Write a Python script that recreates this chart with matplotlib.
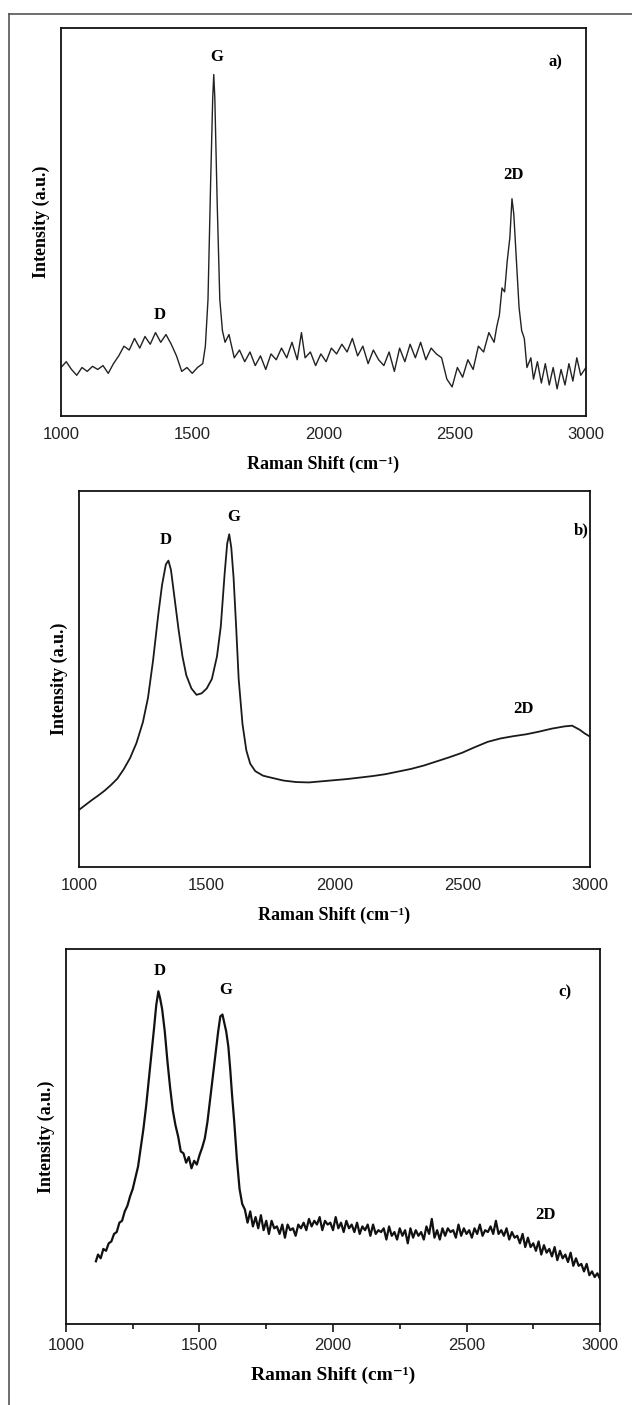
import matplotlib
matplotlib.use("Agg")
import matplotlib.pyplot as plt
from matplotlib.lines import Line2D
import numpy as np

# ---- panel a) spectrum (intensity in % of axis height)
xa = [1000, 1020, 1040, 1060, 1080, 1100, 1120, 1140, 1160, 1180, 1200, 1220, 1240, 1260, 1280,
      1300, 1320, 1340, 1360, 1380, 1400, 1420, 1440, 1460, 1480, 1500, 1520, 1540, 1550, 1560,
      1570, 1578, 1582, 1586, 1595, 1605, 1615, 1625, 1640, 1660, 1680, 1700, 1720, 1740, 1760,
      1780, 1800, 1820, 1840, 1860, 1880, 1900, 1916, 1930, 1950, 1970, 1990, 2010, 2030, 2050,
      2070, 2090, 2110, 2130, 2150, 2170, 2190, 2210, 2230, 2250, 2270, 2290, 2310, 2330, 2350,
      2370, 2390, 2410, 2430, 2450, 2470, 2490, 2510, 2530, 2550, 2570, 2590, 2610, 2630, 2650,
      2660, 2670, 2680, 2690, 2700, 2710, 2718, 2725, 2735, 2745, 2755, 2765, 2775, 2790, 2800,
      2815, 2830, 2845, 2860, 2875, 2890, 2905, 2920, 2935, 2950, 2965, 2980, 3000]
ya = [12.5, 14, 12, 10.5, 12.5, 11.5, 12.8, 12, 13, 11, 13.5, 15.5, 18, 17, 20,
      17.5, 20.5, 18.5, 21.5, 19, 21, 18.5, 15.5, 11.5, 12.5, 11, 12.5, 13.5, 18, 30,
      60, 82, 88, 82, 55, 30, 22, 19, 21, 15, 17, 14, 16.5, 13, 15.5,
      12, 16, 14.5, 17.5, 15, 19, 14.5, 21.5, 15, 16.5, 13, 16, 14, 17.5, 16,
      18.5, 16.5, 20, 15.5, 18, 13.5, 17, 14.5, 13, 16.5, 11.5, 17.5, 14, 18.5, 15,
      19, 14.5, 17.5, 16, 15, 9.5, 7.5, 12.5, 10, 14.5, 12, 18, 16.5, 21.5, 19,
      23, 26, 33, 32, 40, 46, 56, 52, 40, 28, 22, 20, 12.5, 15, 9.5,
      14, 8.5, 13.5, 8, 12.5, 7, 12, 8, 13.5, 9, 15, 10.5, 12.5]

# ---- panel b)
xb = [1000, 1025, 1050, 1075, 1100, 1125, 1150, 1175, 1200, 1225, 1250, 1270, 1290, 1310, 1325,
      1340, 1350, 1360, 1375, 1390, 1405, 1420, 1440, 1460, 1480, 1500, 1520, 1540, 1555, 1570,
      1580, 1588, 1596, 1605, 1615, 1625, 1640, 1655, 1670, 1690, 1720, 1750, 1800, 1850, 1900,
      1950, 2000, 2050, 2100, 2150, 2200, 2250, 2300, 2350, 2400, 2450, 2500, 2550, 2600, 2650,
      2700, 2750, 2800, 2850, 2900, 2930, 2960, 2980, 3000]
yb = [15.2, 16.5, 17.8, 19, 20.3, 21.8, 23.5, 26, 29, 33, 38.5, 45, 55, 67, 75,
      80.5, 81.5, 79, 71, 63, 56, 51, 47.5, 45.8, 46.2, 47.5, 50, 56, 64, 78,
      86, 88.5, 85, 77, 64, 50, 38, 31, 27.5, 25.5, 24.3, 23.8, 23, 22.6, 22.5,
      22.8, 23.1, 23.4, 23.8, 24.2, 24.7, 25.4, 26.1, 27, 28.1, 29.2, 30.4, 31.9, 33.3, 34.2,
      34.8, 35.3, 36, 36.8, 37.4, 37.6, 36.5, 35.5, 34.7]

# ---- panel c)
xc = [1112, 1120, 1130, 1140, 1150, 1160, 1170, 1180, 1190, 1200, 1210, 1220, 1230, 1240, 1250,
      1260, 1270, 1280, 1290, 1300, 1310, 1320, 1330, 1338, 1346, 1352, 1360, 1370, 1380, 1390,
      1400, 1410, 1420, 1430, 1440, 1450, 1460, 1470, 1480, 1490, 1500, 1510, 1520, 1530, 1540,
      1550, 1560, 1570, 1578, 1586, 1594, 1600, 1608, 1615, 1622, 1630, 1640, 1650, 1660, 1670,
      1680, 1690, 1700, 1710, 1720, 1730, 1740, 1750, 1760, 1770, 1780, 1790, 1800, 1810, 1820,
      1830, 1840, 1850, 1860, 1870, 1880, 1890, 1900, 1910, 1920, 1930, 1940, 1950, 1960, 1970,
      1980, 1990, 2000, 2010, 2020, 2030, 2040, 2050, 2060, 2070, 2080, 2090, 2100, 2110, 2120,
      2130, 2140, 2150, 2160, 2170, 2180, 2190, 2200, 2210, 2220, 2230, 2240, 2250, 2260, 2270,
      2280, 2290, 2300, 2310, 2320, 2330, 2340, 2350, 2360, 2370, 2380, 2390, 2400, 2410, 2420,
      2430, 2440, 2450, 2460, 2470, 2480, 2490, 2500, 2510, 2520, 2530, 2540, 2550, 2560, 2570,
      2580, 2590, 2600, 2610, 2620, 2630, 2640, 2650, 2660, 2670, 2680, 2690, 2700, 2710, 2720,
      2730, 2740, 2750, 2760, 2770, 2780, 2790, 2800, 2810, 2820, 2830, 2840, 2850, 2860, 2870,
      2880, 2890, 2900, 2910, 2920, 2930, 2940, 2950, 2960, 2970, 2980, 2990, 3000]
yc = [16.7, 18.5, 17.5, 20, 19.5, 21.5, 22, 24, 24.5, 27, 27.5, 30, 31.5, 34, 36,
      39, 42, 47, 52, 58, 65, 72, 79, 85, 88.7, 87, 84, 78, 70, 63,
      57, 53, 50, 46, 45.5, 43, 44.5, 41.5, 43.5, 42.5, 45, 47, 49.5, 54, 60,
      66, 72, 78, 82, 82.5, 80, 78, 74, 68, 61, 54, 44, 36, 32, 30.5,
      27, 30, 26, 28.5, 25.5, 29, 25, 27.5, 24, 27.5, 25.5, 26, 24, 26.5, 23,
      26.5, 25, 25.5, 23.5, 26.5, 25.5, 27, 25, 28, 26, 27.5, 26.5, 28.5, 25, 27.5,
      26.5, 27, 25, 28.5, 25.5, 27, 24.5, 27.5, 25.5, 26.5, 24.5, 27, 24, 26, 25,
      26.5, 23.5, 26.5, 24, 25, 24.5, 25.5, 22.5, 26, 23.5, 24.5, 22.5, 25.5, 23.5, 25,
      21.5, 25.5, 23, 25, 23.5, 24.5, 22.5, 26, 24, 28, 23, 25, 22.5, 25.5, 23.5,
      25.5, 24.5, 25, 23, 26.5, 23.5, 25.5, 24, 25, 23, 25.5, 24, 26.5, 23.5, 25,
      24.5, 26, 24, 27.5, 24, 25, 23.5, 25.5, 22.5, 24.5, 23, 23.5, 21.5, 24, 20.5,
      23, 20.5, 21.5, 19.5, 22, 18.5, 21, 19, 20, 18, 20.5, 17, 19.5, 17.5, 18.5,
      16.5, 19, 15.5, 17.5, 15.5, 16, 14, 16, 13, 14, 12.5, 13.5, 12]

# peak labels: (text, x, y)
labels_a = [("G", 1592, 92.5), ("D", 1375, 26), ("2D", 2722, 62), ("a)", 2885, 91)]
labels_b = [("D", 1339, 87), ("G", 1604, 93), ("2D", 2739, 42), ("b)", 2966, 89.6)]
labels_c = [("D", 1350, 94), ("G", 1599, 89), ("2D", 2795, 29), ("c)", 2867, 88.3)]

serif = ['Liberation Serif', 'DejaVu Serif']
sans = ['Liberation Sans', 'DejaVu Sans']

fig = plt.figure(figsize=(6.32, 14.05), dpi=100)

# outer frame (only top and left edges visible)
fig.add_artist(Line2D([9 / 632, 1], [1 - 14 / 1405, 1 - 14 / 1405], color='#555555', lw=1.2))
fig.add_artist(Line2D([9 / 632, 9 / 632], [0, 1 - 14 / 1405], color='#555555', lw=1.2))

panels = [
    ([0.0965, 0.7039, 0.8307, 0.2762], xa, ya, labels_a, '#222222', 1.0, False, 13),
    ([0.1250, 0.3829, 0.8085, 0.2676], xb, yb, labels_b, '#1a1a1a', 1.3, False, 13),
    ([0.1044, 0.0577, 0.8450, 0.2669], xc, yc, labels_c, '#111111', 1.6, True, 14),
]

for rect, x, y, labs, col, lw, ticks, xfs in panels:
    ax = fig.add_axes(rect)
    ax.plot(x, y, color=col, lw=lw)
    ax.set_xlim(1000, 3000)
    ax.set_ylim(0, 100)
    ax.set_xticks([1000, 1500, 2000, 2500, 3000])
    ax.set_yticks([])
    for s in ax.spines.values():
        s.set_linewidth(1.3)
        s.set_color('#111111')
    if ticks:
        ax.set_xticks([1250, 1750, 2250, 2750], minor=True)
        ax.tick_params(axis='x', which='major', direction='out', length=6, width=1.1, pad=4)
        ax.tick_params(axis='x', which='minor', direction='out', length=3.5, width=1.1)
    else:
        ax.tick_params(axis='x', length=0, pad=8)
    for t in ax.get_xticklabels():
        t.set_family(sans)
        t.set_fontsize(12)
        t.set_color('#222222')
    ax.set_xlabel('Raman Shift (cm\u207b\u00b9)', family=serif, fontweight='bold',
                  fontsize=xfs, labelpad=10)
    ax.set_ylabel('Intensity (a.u.)', family=serif, fontweight='bold', fontsize=13, labelpad=8)
    for txt, lx, ly in labs:
        ax.text(lx, ly, txt, family=serif, fontweight='bold', fontsize=12,
                ha='center', va='center')

fig.savefig('out.png', dpi=100)
